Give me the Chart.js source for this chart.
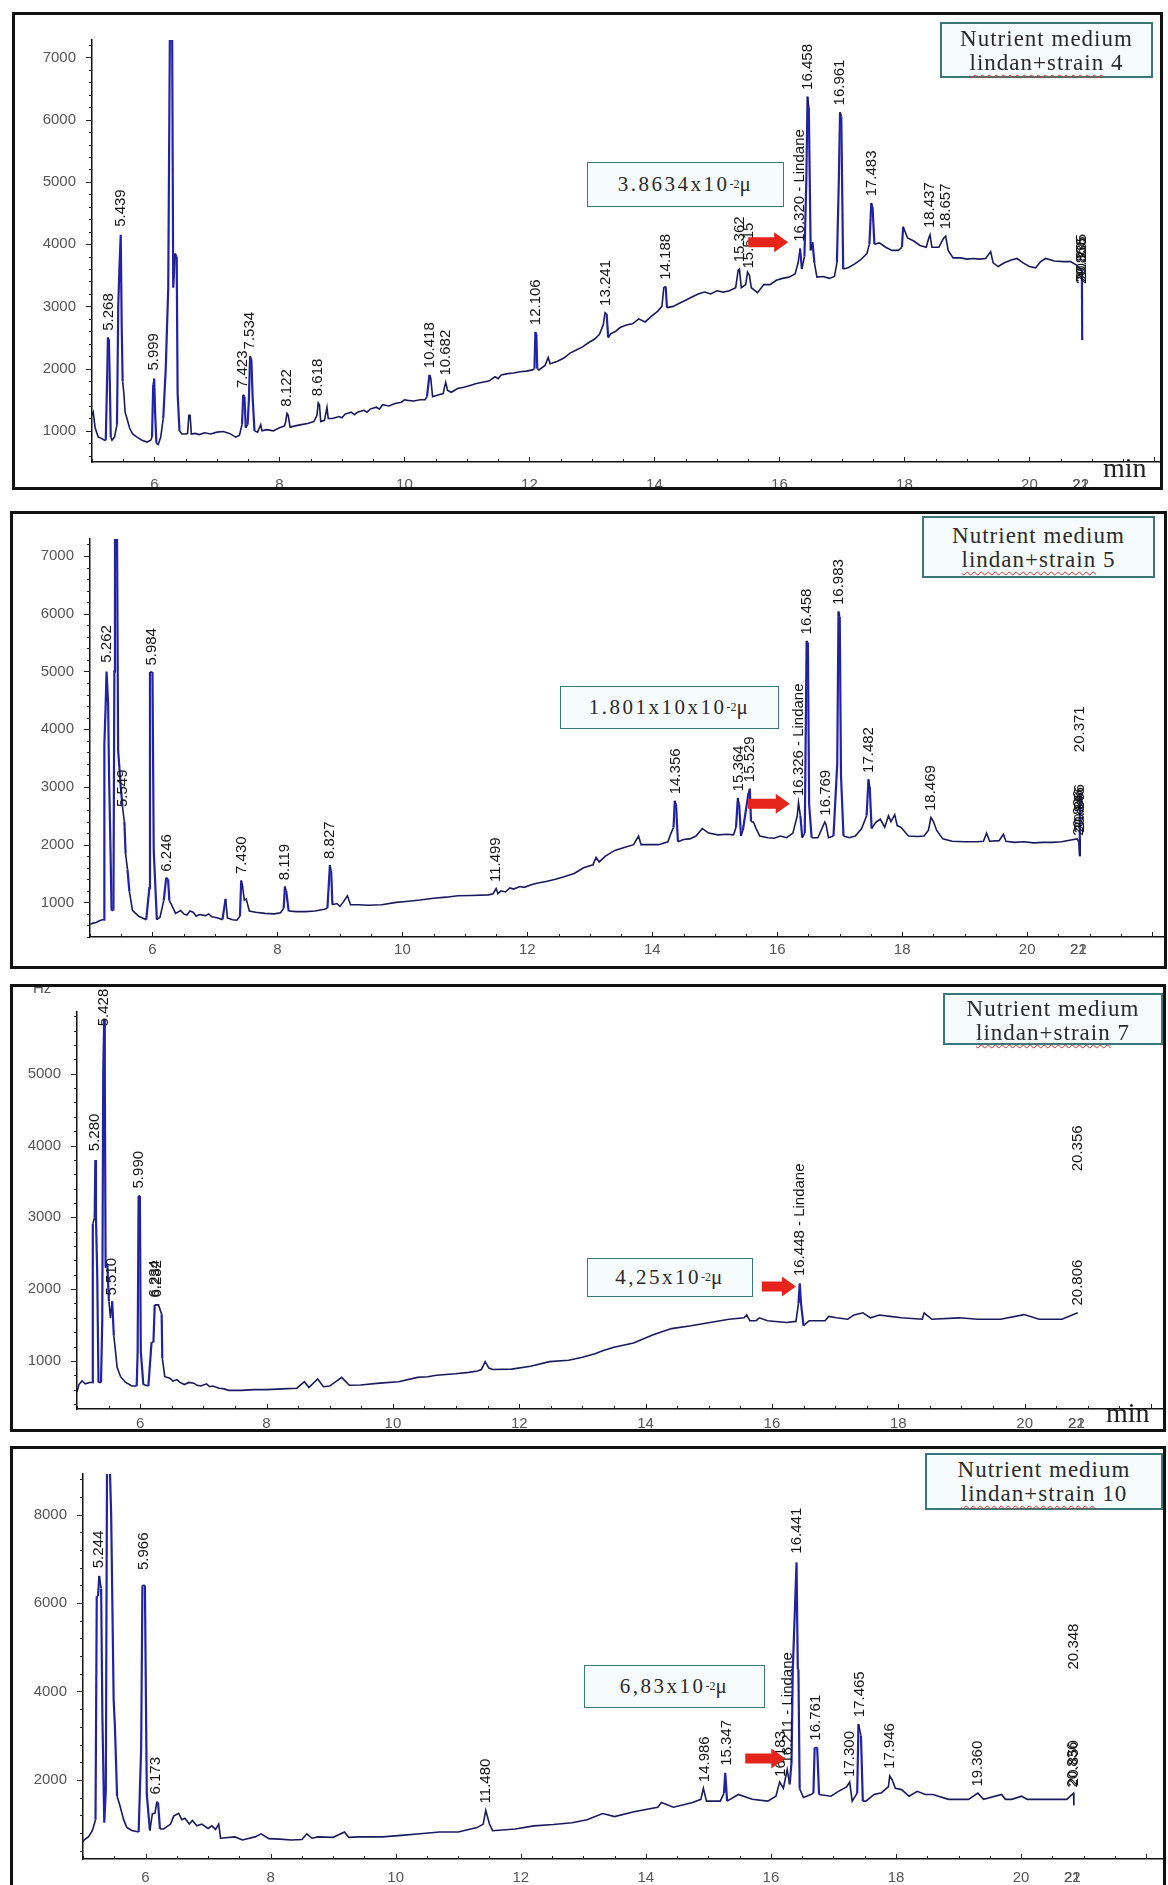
<!DOCTYPE html>
<html>
<head>
<meta charset="utf-8">
<title>GC chromatograms - lindane degradation</title>
<script src="https://cdn.jsdelivr.net/npm/chart.js@4.4.1/dist/chart.umd.min.js"></script>
<style>
  html, body { margin: 0; padding: 0; background: #fff; }
  body { width: 1168px; height: 1885px; position: relative; overflow: hidden; font-family: "Liberation Sans", Arial, sans-serif; }
  .panel { position: absolute; border: 3px solid #111; overflow: hidden; background: #fff; box-sizing: border-box; }
  .panel canvas { position: absolute; left: 0; top: 0; }
  .note { position: absolute; box-sizing: border-box; border: 1.5px solid #3d7676; background: #f6fcfc; color: #2a2a2a;
          font-family: "Liberation Serif", "Times New Roman", serif; text-align: center; z-index: 2; }
  .legend { font-size: 23px; line-height: 24px; letter-spacing: 1px; padding-top: 3px; border-width: 2px; }
  .legend span { text-decoration: underline wavy #d8322a; text-decoration-thickness: 1px; text-underline-offset: 4px; }
  .value { font-size: 21px; letter-spacing: 2.5px; display: flex; align-items: center; justify-content: center; }
  .value sup { font-size: 12px; letter-spacing: 0; }
  .unit { position: absolute; font-family: "Liberation Serif", "Times New Roman", serif; font-size: 28px; color: #222; z-index: 2; }
  .hz { position: absolute; left: 20px; top: -8px; font-size: 15px; color: #555; z-index: 2; }
</style>
</head>
<body>

<div class="panel" style="left:12px;top:12px;width:1151px;height:478px"><canvas id="c4" width="1145" height="482"></canvas></div>
<div class="panel" style="left:10px;top:511px;width:1157px;height:458px"><canvas id="c5" width="1151" height="462"></canvas></div>
<div class="panel" style="left:10px;top:984px;width:1156px;height:448px"><div class="hz">Hz</div><canvas id="c7" width="1150" height="452"></canvas></div>
<div class="panel" style="left:10px;top:1446px;width:1156px;height:445px"><canvas id="c10" width="1150" height="449"></canvas></div>

<div class="note value" style="left:587px;top:162px;width:197px;height:45px">3.8634x10<sup>-2</sup>μ</div>
<div class="note legend" style="left:940px;top:22px;width:213px;height:56px">Nutrient medium<br><span>lindan+strain</span> 4</div>
<div class="unit" style="left:1103px;top:452px">min</div>

<div class="note value" style="left:560px;top:686px;width:219px;height:43px">1.801x10x10<sup>-2</sup>μ</div>
<div class="note legend" style="left:922px;top:516px;width:233px;height:62px;padding-top:6px">Nutrient medium<br><span>lindan+strain</span> 5</div>

<div class="note value" style="left:587px;top:1258px;width:166px;height:39px">4,25x10<sup>-2</sup>μ</div>
<div class="note legend" style="left:943px;top:993px;width:220px;height:52px;padding-top:2px">Nutrient medium<br><span>lindan+strain</span> 7</div>
<div class="unit" style="left:1106px;top:1397px">min</div>

<div class="note value" style="left:584px;top:1665px;width:181px;height:43px">6,83x10<sup>-2</sup>μ</div>
<div class="note legend" style="left:925px;top:1453px;width:238px;height:57px">Nutrient medium<br><span>lindan+strain</span> 10</div>

<script>
// ================= DATA =================
// shared x axis (retention time, min)
const xTickValues = [6, 8, 10, 12, 14, 16, 18, 20, 20.82, 20.82];
const xTickLabels = ['6', '8', '10', '12', '14', '16', '18', '20', '21', '22'];

const yTicksStrain4 = [1000, 2000, 3000, 4000, 5000, 6000, 7000];
const yTicksStrain5 = [1000, 2000, 3000, 4000, 5000, 6000, 7000];
const yTicksStrain7 = [1000, 2000, 3000, 4000, 5000];
const yTicksStrain10 = [2000, 4000, 6000, 8000];

// traces: [retention time, signal]
const strain4Trace = [
  [5.00,1250],[5.02,1300],[5.05,1050],[5.10,900],[5.15,880],[5.20,850],[5.22,850],[5.24,1750],[5.255,2500],[5.27,2470],
  [5.285,1800],[5.30,900],[5.32,850],[5.36,900],[5.40,1100],[5.42,3000],[5.44,3650],[5.46,4150],[5.475,2700],[5.49,1800],
  [5.51,1600],[5.53,1300],[5.56,1200],[5.60,1050],[5.65,950],[5.72,900],[5.80,850],[5.88,820],[5.94,850],[5.96,900],
  [5.98,1750],[5.995,1840],[6.01,1300],[6.03,800],[6.06,780],[6.10,900],[6.14,1200],[6.18,2000],[6.22,3300],[6.25,8000],
  [6.28,8000],[6.30,3300],[6.33,3850],[6.355,3800],[6.37,1600],[6.40,1000],[6.44,950],[6.50,950],[6.53,960],[6.55,1250],
  [6.57,1250],[6.59,950],[6.65,960],[6.72,940],[6.80,970],[6.90,950],[7.00,980],[7.10,990],[7.20,960],[7.30,900],
  [7.36,930],[7.40,1100],[7.42,1580],[7.44,1550],[7.46,1050],[7.49,1100],[7.51,1500],[7.53,2200],[7.55,2150],[7.57,1550],
  [7.60,1000],[7.65,980],[7.70,1100],[7.72,1000],[7.80,1020],[7.90,1000],[8.00,1050],[8.08,1080],[8.10,1150],[8.12,1280],
  [8.14,1250],[8.17,1060],[8.25,1080],[8.35,1100],[8.45,1120],[8.55,1150],[8.60,1250],[8.62,1450],[8.64,1420],[8.66,1150],
  [8.72,1170],[8.76,1380],[8.78,1200],[8.85,1200],[8.95,1230],[9.00,1210],[9.05,1270],[9.15,1300],[9.20,1260],[9.25,1300],
  [9.35,1330],[9.40,1300],[9.45,1350],[9.55,1380],[9.60,1350],[9.65,1420],[9.75,1400],[9.85,1440],[9.95,1460],[10.00,1500],
  [10.05,1490],[10.15,1480],[10.25,1500],[10.33,1500],[10.36,1550],[10.40,1900],[10.42,1850],[10.45,1550],[10.55,1580],[10.62,1600],
  [10.64,1700],[10.66,1780],[10.69,1650],[10.75,1620],[10.85,1680],[10.95,1700],[11.05,1730],[11.15,1760],[11.25,1780],[11.35,1800],
  [11.45,1870],[11.50,1840],[11.55,1900],[11.65,1920],[11.75,1930],[11.85,1950],[11.95,1960],[12.05,1980],[12.08,2000],[12.095,2590],
  [12.11,2560],[12.125,2000],[12.15,1980],[12.25,2050],[12.30,2180],[12.33,2080],[12.45,2120],[12.55,2170],[12.65,2250],[12.75,2300],
  [12.85,2350],[12.95,2420],[13.05,2480],[13.12,2550],[13.18,2700],[13.21,2900],[13.235,2880],[13.26,2500],[13.30,2560],[13.38,2600],
  [13.45,2660],[13.55,2700],[13.65,2720],[13.75,2800],[13.85,2750],[13.95,2840],[14.05,2920],[14.12,3000],[14.15,3300],[14.18,3320],
  [14.20,2980],[14.30,3000],[14.40,3050],[14.50,3100],[14.60,3150],[14.70,3200],[14.80,3230],[14.90,3200],[15.00,3250],[15.10,3230],
  [15.20,3250],[15.30,3300],[15.34,3580],[15.36,3600],[15.39,3300],[15.46,3350],[15.49,3550],[15.52,3500],[15.55,3300],[15.65,3220],
  [15.75,3350],[15.85,3350],[15.95,3420],[16.05,3450],[16.15,3470],[16.25,3520],[16.30,3700],[16.33,3930],[16.36,3600],[16.40,3800],
  [16.43,5000],[16.45,6370],[16.47,6200],[16.50,3900],[16.53,4030],[16.56,3700],[16.60,3470],[16.70,3480],[16.80,3450],[16.88,3480],
  [16.92,3700],[16.95,5000],[16.97,6120],[16.99,6050],[17.02,3600],[17.10,3620],[17.20,3680],[17.30,3750],[17.40,3850],[17.44,4000],
  [17.47,4660],[17.49,4600],[17.52,4000],[17.60,4020],[17.70,3950],[17.80,3900],[17.90,3900],[17.96,3950],[17.98,4280],[18.05,4100],
  [18.15,4050],[18.25,3980],[18.35,3950],[18.39,4100],[18.41,4150],[18.44,3950],[18.55,3950],[18.63,4100],[18.66,4130],[18.70,3900],
  [18.78,3780],[18.90,3780],[19.00,3760],[19.10,3770],[19.20,3760],[19.30,3770],[19.38,3880],[19.42,3700],[19.50,3640],[19.60,3700],
  [19.70,3740],[19.80,3770],[19.90,3700],[20.00,3640],[20.10,3620],[20.18,3720],[20.26,3770],[20.40,3730],[20.55,3720],[20.66,3720],
  [20.76,3660],[20.82,3590],[20.84,3570],[20.845,2460]
];

const strain5Trace = [
  [5.00,620],[5.05,640],[5.10,650],[5.15,680],[5.20,700],[5.225,700],[5.23,3740],[5.25,4400],[5.265,5000],[5.29,4450],
  [5.305,3200],[5.33,1800],[5.345,860],[5.375,860],[5.39,5000],[5.40,8000],[5.43,8000],[5.45,3640],[5.49,3040],[5.52,2660],
  [5.55,2400],[5.57,1840],[5.60,1570],[5.63,1190],[5.68,860],[5.78,760],[5.90,700],[5.95,1245],[5.96,4990],[6.00,4990],
  [6.02,1900],[6.07,700],[6.12,740],[6.18,1030],[6.22,1430],[6.25,1400],[6.27,1030],[6.30,970],[6.37,810],[6.45,860],
  [6.50,800],[6.55,780],[6.60,850],[6.65,830],[6.70,760],[6.75,790],[6.85,770],[6.90,800],[6.95,750],[7.05,730],
  [7.12,700],[7.17,1060],[7.20,730],[7.28,700],[7.35,690],[7.40,760],[7.42,1380],[7.44,1300],[7.47,1040],[7.50,1060],
  [7.55,850],[7.65,830],[7.80,810],[7.95,800],[8.05,820],[8.10,900],[8.12,1275],[8.14,1200],[8.18,850],[8.30,840],
  [8.45,840],[8.60,850],[8.75,880],[8.80,900],[8.84,1645],[8.86,1550],[8.88,960],[8.95,980],[9.00,930],[9.05,1000],
  [9.12,1115],[9.17,960],[9.30,960],[9.45,950],[9.67,960],[9.90,1000],[10.10,1020],[10.28,1040],[10.50,1070],[10.70,1090],
  [10.89,1115],[11.10,1120],[11.38,1130],[11.45,1150],[11.50,1240],[11.53,1150],[11.58,1200],[11.65,1180],[11.72,1250],[11.78,1230],
  [11.88,1275],[11.95,1260],[12.05,1300],[12.15,1330],[12.30,1360],[12.45,1400],[12.60,1450],[12.75,1500],[12.90,1600],[13.05,1650],
  [13.10,1780],[13.15,1700],[13.25,1800],[13.40,1900],[13.55,1950],[13.70,2000],[13.78,2150],[13.82,2000],[13.95,2000],[14.10,2000],
  [14.25,2050],[14.30,2200],[14.34,2300],[14.36,2760],[14.38,2700],[14.41,2050],[14.50,2090],[14.60,2100],[14.70,2150],[14.80,2280],
  [14.90,2200],[15.05,2170],[15.20,2180],[15.30,2170],[15.34,2300],[15.37,2810],[15.39,2700],[15.42,2150],[15.45,2250],[15.54,2900],
  [15.56,2970],[15.58,2400],[15.62,2390],[15.66,2280],[15.72,2150],[15.85,2120],[15.95,2110],[16.05,2150],[16.15,2120],[16.25,2200],
  [16.32,2500],[16.34,2730],[16.37,2500],[16.40,2120],[16.44,2200],[16.47,5530],[16.49,5500],[16.51,2700],[16.55,2120],[16.65,2120],
  [16.76,2390],[16.78,2350],[16.82,2120],[16.90,2150],[16.96,3400],[16.98,6040],[17.00,5950],[17.02,3200],[17.06,2150],[17.15,2120],
  [17.25,2150],[17.35,2280],[17.43,2500],[17.46,3130],[17.48,3000],[17.51,2280],[17.58,2390],[17.65,2440],[17.72,2300],[17.78,2500],
  [17.82,2400],[17.88,2520],[17.92,2330],[17.98,2300],[18.10,2150],[18.25,2140],[18.35,2150],[18.42,2250],[18.46,2470],[18.50,2400],
  [18.55,2250],[18.65,2100],[18.80,2060],[19.00,2050],[19.20,2050],[19.30,2060],[19.35,2200],[19.40,2060],[19.55,2070],[19.62,2180],
  [19.66,2060],[19.80,2040],[19.95,2050],[20.10,2030],[20.25,2040],[20.40,2040],[20.55,2050],[20.70,2080],[20.80,2100],[20.83,2040],
  [20.84,2900],[20.845,1800],[20.85,2100]
];

const strain7Trace = [
  [5.00,565],[5.03,670],[5.08,720],[5.13,680],[5.20,700],[5.245,700],[5.25,2910],[5.28,3000],[5.29,3800],[5.30,3000],
  [5.32,2220],[5.34,700],[5.38,700],[5.40,1565],[5.415,5000],[5.43,5750],[5.44,5000],[5.453,2300],[5.48,2350],[5.505,1830],
  [5.53,1600],[5.557,1830],[5.583,1350],[5.61,1130],[5.635,910],[5.69,780],[5.77,700],[5.87,650],[5.945,650],[5.96,1130],
  [5.975,3300],[5.995,3300],[6.01,1130],[6.05,670],[6.13,650],[6.18,1260],[6.21,1260],[6.23,1780],[6.29,1780],[6.34,1650],
  [6.35,1040],[6.39,780],[6.47,760],[6.52,720],[6.58,740],[6.63,700],[6.70,670],[6.77,700],[6.85,690],[6.90,660],
  [6.96,650],[7.05,680],[7.10,640],[7.15,650],[7.25,620],[7.33,610],[7.40,590],[7.60,590],[7.80,600],[8.00,600],
  [8.25,610],[8.48,620],[8.60,710],[8.67,630],[8.81,750],[8.90,640],[9.00,650],[9.19,770],[9.31,660],[9.49,665],
  [9.79,690],[10.09,710],[10.39,770],[10.55,780],[10.69,800],[10.99,820],[11.20,840],[11.34,860],[11.40,880],[11.46,990],
  [11.52,900],[11.58,880],[11.88,885],[12.18,925],[12.48,990],[12.78,1010],[13.00,1050],[13.20,1100],[13.32,1140],[13.50,1190],
  [13.81,1250],[14.11,1360],[14.41,1450],[14.72,1490],[15.02,1535],[15.32,1580],[15.56,1600],[15.60,1640],[15.65,1560],[15.75,1560],
  [15.80,1600],[15.93,1560],[16.23,1535],[16.38,1550],[16.42,1800],[16.44,2080],[16.46,1800],[16.50,1490],[16.59,1560],[16.84,1560],
  [16.90,1620],[17.02,1600],[17.20,1580],[17.30,1640],[17.44,1670],[17.56,1600],[17.70,1640],[17.87,1620],[18.05,1600],[18.38,1580],
  [18.41,1670],[18.53,1580],[18.96,1600],[19.26,1580],[19.62,1580],[19.99,1645],[20.23,1580],[20.59,1580],[20.84,1670]
];

const strain10Trace = [
  [5.00,600],[5.02,643],[5.09,714],[5.15,855],[5.20,1100],[5.22,6155],[5.24,6155],[5.26,6615],[5.29,6330],[5.31,3435],
  [5.34,1030],[5.365,1770],[5.385,9500],[5.42,9500],[5.45,8030],[5.49,3820],[5.51,3220],[5.545,1630],[5.59,1420],[5.65,1100],
  [5.70,925],[5.78,855],[5.89,820],[5.93,2730],[5.95,6400],[5.99,6400],[6.02,1670],[6.07,855],[6.11,1240],[6.15,1240],
  [6.18,1490],[6.20,1490],[6.23,890],[6.29,890],[6.40,1000],[6.45,1180],[6.53,1245],[6.58,1100],[6.63,1130],[6.70,1000],
  [6.75,1080],[6.82,960],[6.90,1000],[7.00,900],[7.06,960],[7.12,880],[7.17,1000],[7.20,680],[7.43,710],[7.55,640],
  [7.75,710],[7.85,780],[7.97,670],[8.15,660],[8.33,640],[8.50,650],[8.58,780],[8.66,680],[8.76,710],[9.00,700],
  [9.18,820],[9.25,700],[9.42,710],[9.79,710],[10.09,745],[10.39,780],[10.70,820],[11.00,820],[11.30,920],[11.40,1000],
  [11.44,1310],[11.50,1000],[11.55,850],[11.91,890],[12.21,960],[12.52,990],[12.82,1030],[13.06,1100],[13.31,1240],[13.50,1170],
  [13.81,1280],[14.19,1380],[14.25,1490],[14.44,1380],[14.75,1490],[14.88,1560],[14.92,1810],[14.97,1520],[15.19,1520],[15.25,1700],
  [15.27,2160],[15.30,1520],[15.48,1670],[15.70,1560],[15.95,1520],[16.08,1630],[16.14,1950],[16.20,1810],[16.26,2230],[16.30,1900],
  [16.33,2400],[16.35,4500],[16.38,5700],[16.41,6920],[16.43,4500],[16.44,4500],[16.46,1800],[16.52,1600],[16.64,1670],[16.68,1700],
  [16.70,2730],[16.74,2730],[16.77,1670],[16.96,1630],[17.08,1740],[17.21,1840],[17.26,1950],[17.30,1520],[17.38,1700],[17.40,3260],
  [17.44,3000],[17.47,1520],[17.52,1520],[17.65,1670],[17.77,1710],[17.88,1850],[17.90,2090],[17.94,2000],[17.99,1810],[18.09,1780],
  [18.21,1630],[18.34,1740],[18.47,1670],[18.59,1670],[18.84,1560],[19.16,1560],[19.31,1700],[19.40,1560],[19.69,1670],[19.75,1560],
  [19.85,1560],[20.01,1630],[20.10,1560],[20.73,1560],[20.84,1700],[20.845,1420]
];

// peak labels: [retention time, label, signal where the label starts]
const strain4Peaks = [
  [5.27,'5.268',2560],[5.46,'5.439',4230],[5.995,'5.999',1920],[7.42,'7.423',1640],[7.53,'7.534',2260],[8.12,'8.122',1340],
  [8.62,'8.618',1510],[10.40,'10.418',1960],[10.66,'10.682',1840],[12.10,'12.106',2650],[13.22,'13.241',2960],[14.18,'14.188',3380],
  [15.36,'15.362',3660],[15.51,'15.515',3560],[16.33,'16.320 - Lindane',3990],[16.455,'16.458',6430],[16.975,'16.961',6180],
  [17.48,'17.483',4720],[18.41,'18.437',4210],[18.66,'18.657',4190],[20.835,'20.866',3310],[20.845,'20.835',3340],[20.84,'20.205',3380]
];
const strain5Peaks = [
  [5.265,'5.262',5100],[5.53,'5.549',2600],[5.985,'5.984',5050],[6.23,'6.246',1480],[7.43,'7.430',1440],[8.12,'8.119',1330],
  [8.845,'8.827',1700],[11.50,'11.499',1300],[14.37,'14.356',2820],[15.38,'15.364',2870],[15.56,'15.529',3030],
  [16.34,'16.326 - Lindane',2790],[16.48,'16.458',5590],[16.775,'16.769',2450],[16.985,'16.983',6100],[17.46,'17.482',3190],
  [18.46,'18.469',2530],[20.84,'20.371',3550],[20.835,'20.836',2100],[20.845,'20.846',2150],[20.85,'20.856',2200]
];
const strain7Peaks = [
  [5.28,'5.280',3880],[5.43,'5.428',5620],[5.55,'5.510',1870],[5.985,'5.990',3360],[6.23,'6.234',1840],[6.27,'6.282',1840],
  [16.44,'16.448 - Lindane',2140],[20.84,'20.356',3600],[20.84,'20.806',1730]
];
const strain10Peaks = [
  [5.255,'5.244',6720],[5.97,'5.966',6680],[6.17,'6.173',1600],[11.44,'11.480',1400],[14.95,'14.986',1880],[15.30,'15.347',2250],
  [16.16,'16.183',2000],[16.27,'16.211 - Lindane',2300],[16.41,'16.441',7050],[16.72,'16.761',2820],[17.26,'17.300',2000],
  [17.42,'17.465',3350],[17.90,'17.946',2180],[19.31,'19.360',1780],[20.84,'20.348',4430],[20.835,'20.836',1760],[20.845,'20.850',1790]
];

// ================= STYLE =================
const TRACE = '#1a1a5c';
const PEAK = '#2222a6';
const FONT = '"Liberation Sans", Arial, sans-serif';
Chart.defaults.font.family = FONT;

// peak labels, red arrow and minor axis ticks
const chromPlugin = {
  id: 'chrom',
  afterDraw(chart, args, o) {
    const { ctx, chartArea: a, scales: { x, y } } = chart;
    ctx.save();

    ctx.strokeStyle = '#222';
    ctx.lineWidth = 1;
    ctx.beginPath();
    for (let v = Math.ceil(y.min / o.yMinor) * o.yMinor; v <= y.max; v += o.yMinor) {
      const py = Math.round(y.getPixelForValue(v)) + 0.5;
      const len = v % o.yMajor === 0 ? 6 : 3;
      ctx.moveTo(a.left - len, py);
      ctx.lineTo(a.left, py);
    }
    for (let v = 5; v <= x.max; v += 0.5) {
      const px = Math.round(x.getPixelForValue(v)) + 0.5;
      const len = v % 2 === 0 ? 5 : 3;
      ctx.moveTo(px, a.bottom);
      ctx.lineTo(px, a.bottom - len);
    }
    ctx.stroke();

    ctx.fillStyle = '#141414';
    ctx.font = '15px ' + FONT;
    ctx.textAlign = 'left';
    ctx.textBaseline = 'middle';
    o.peaks.forEach(([t, text, h]) => {
      ctx.save();
      ctx.translate(x.getPixelForValue(t), y.getPixelForValue(h) - 3);
      ctx.rotate(-Math.PI / 2);
      ctx.fillText(text, 0, 0);
      ctx.restore();
    });

    const [t0, t1, h] = o.arrow;
    const x0 = x.getPixelForValue(t0), x1 = x.getPixelForValue(t1), py = y.getPixelForValue(h);
    const head = 14;
    ctx.fillStyle = '#e5241b';
    ctx.beginPath();
    ctx.moveTo(x0, py - 5);
    ctx.lineTo(x1 - head, py - 5);
    ctx.lineTo(x1 - head, py - 10);
    ctx.lineTo(x1, py);
    ctx.lineTo(x1 - head, py + 10);
    ctx.lineTo(x1 - head, py + 5);
    ctx.lineTo(x0, py + 5);
    ctx.closePath();
    ctx.fill();

    ctx.restore();
  }
};

function buildPanel(id, trace, peaks, yTicks, opt) {
  const canvas = document.getElementById(id);
  return new Chart(canvas, {
    type: 'line',
    data: {
      datasets: [{
        data: trace.map(p => ({ x: p[0], y: p[1] })),
        borderColor: TRACE,
        borderWidth: 1.6,
        pointRadius: 0,
        tension: 0,
        fill: false,
        segment: {
          borderColor: c => Math.abs(c.p1.y - c.p0.y) > 20 ? PEAK : TRACE,
          borderWidth: c => Math.abs(c.p1.y - c.p0.y) > 20 ? 2.2 : 1.6
        }
      }]
    },
    options: {
      responsive: false,
      animation: false,
      devicePixelRatio: 1,
      layout: { padding: 0 },
      plugins: {
        legend: { display: false },
        tooltip: { enabled: false },
        chrom: { peaks, arrow: opt.arrow, yMinor: opt.yMinor, yMajor: opt.yMajor }
      },
      scales: {
        x: {
          type: 'linear',
          min: 5,
          max: opt.xMax,
          grid: { display: false, drawTicks: false },
          border: { display: true, color: '#111', width: 1.5 },
          afterBuildTicks: s => { s.ticks = xTickValues.map(v => ({ value: v })); },
          afterFit: s => { s.height = opt.h - opt.bottom; },
          ticks: {
            autoSkip: false, maxRotation: 0, padding: opt.xPad, color: '#555',
            font: { size: 15 },
            callback: (v, i) => xTickLabels[i]
          }
        },
        y: {
          type: 'linear',
          min: opt.yMin,
          max: opt.yMax,
          grid: { display: false, drawTicks: false },
          border: { display: true, color: '#111', width: 1.5 },
          afterBuildTicks: s => { s.ticks = yTicks.map(v => ({ value: v })); },
          afterFit: s => { s.width = opt.left; },
          ticks: { padding: 16, color: '#555', font: { size: 15 }, callback: v => String(v) }
        }
      }
    },
    plugins: [chromPlugin]
  });
}

// ================= INIT =================
buildPanel('c4', strain4Trace, strain4Peaks, yTicksStrain4,
  { left: 77, bottom: 447, h: 482, xMax: 22.09, yMin: 500, yMax: 7280, xPad: 14, yMinor: 200, yMajor: 1000, arrow: [15.50, 16.14, 4030] });
buildPanel('c5', strain5Trace, strain5Peaks, yTicksStrain5,
  { left: 77, bottom: 423, h: 462, xMax: 22.19, yMin: 400, yMax: 7295, xPad: 4, yMinor: 200, yMajor: 1000, arrow: [15.53, 16.20, 2710] });
buildPanel('c7', strain7Trace, strain7Peaks, yTicksStrain7,
  { left: 64, bottom: 422, h: 452, xMax: 22.19, yMin: 330, yMax: 5860, xPad: 6, yMinor: 200, yMajor: 1000, arrow: [15.84, 16.38, 2038] });
buildPanel('c10', strain10Trace, strain10Peaks, yTicksStrain10,
  { left: 70, bottom: 410, h: 449, xMax: 22.27, yMin: 210, yMax: 8920, xPad: 10, yMinor: 400, yMajor: 2000, arrow: [15.59, 16.23, 2485] });
</script>
</body>
</html>
